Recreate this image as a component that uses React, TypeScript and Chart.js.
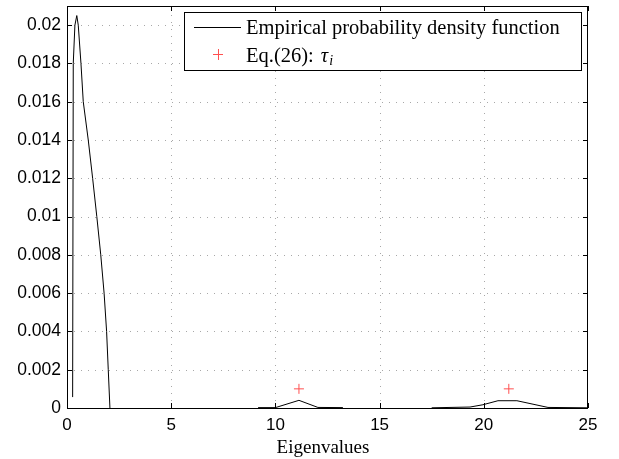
import React, { useEffect, useRef } from "react";
import { Chart, registerables } from "chart.js";

Chart.register(...registerables);

// Empirical PDF curve (null = gap)
const pdfX: (number | null)[] = [
  0.27, 0.3, 0.38, 0.47, 0.54, 0.67, 0.78, 1.02, 1.23, 1.43, 1.62, 1.78, 1.9, 1.98, 2.06,
  null,
  9.17, 10.0, 11.13, 12.04, 13.24,
  null,
  17.5, 19.34, 19.96, 20.68, 21.59, 23.08, 24.95,
];
const pdfY: (number | null)[] = [
  0.00057, 0.018, 0.02, 0.0205, 0.02, 0.018, 0.016, 0.014, 0.012, 0.01, 0.008, 0.006, 0.004, 0.002, 0,
  null,
  0.00002, 0.00002, 0.0004, 0.00003, 0.00002,
  null,
  0.00001, 0.00005, 0.00017, 0.00038, 0.00038, 0.00003, 0.00001,
];

// Eq.(26) tau_i markers
const eqX = [11.13, 21.2];
const eqY = [0.001, 0.001];

const xTicks = [0, 5, 10, 15, 20, 25];
const yTicks = [0, 0.002, 0.004, 0.006, 0.008, 0.01, 0.012, 0.014, 0.016, 0.018, 0.02];
const yTickLabels = ["0", "0.002", "0.004", "0.006", "0.008", "0.01", "0.012", "0.014", "0.016", "0.018", "0.02"];

const legendLabels = ["Empirical probability density function", "Eq.(26): "];
const xTitle = "Eigenvalues";

const SERIF = "'Liberation Serif', 'DejaVu Serif', serif";
const SANS = "'Liberation Sans', Arial, sans-serif";

const gridPlugin = {
  id: "dotgrid",
  beforeDatasetsDraw(chart: any) {
    const { ctx, chartArea } = chart;
    const { left, right, top, bottom } = chartArea;
    const xs = chart.scales.x;
    const ys = chart.scales.y;
    ctx.save();
    ctx.strokeStyle = "#a8a8a8";
    ctx.lineWidth = 1;
    ctx.setLineDash([1, 6]);
    ctx.beginPath();
    xTicks.forEach((v) => {
      const px = Math.round(xs.getPixelForValue(v)) + 0.5;
      if (px < left + 2 || px > right - 2) return;
      ctx.moveTo(px, bottom);
      ctx.lineTo(px, top);
    });
    yTicks.forEach((v) => {
      const py = Math.round(ys.getPixelForValue(v)) + 0.5;
      if (py > bottom - 2 || py < top + 2) return;
      ctx.moveTo(left, py);
      ctx.lineTo(right, py);
    });
    ctx.stroke();
    ctx.restore();
  },
};

const decorPlugin = {
  id: "decor",
  afterDatasetsDraw(chart: any) {
    const { ctx, chartArea } = chart;
    const { left, right, top, bottom } = chartArea;
    const xs = chart.scales.x;
    const ys = chart.scales.y;
    ctx.save();
    // border
    ctx.strokeStyle = "#000";
    ctx.lineWidth = 1;
    ctx.strokeRect(left + 0.5, top + 0.5, right - left - 1, bottom - top);
    // inward tick marks
    const tl = 5;
    ctx.beginPath();
    xTicks.forEach((v) => {
      const px = Math.round(xs.getPixelForValue(v)) + 0.5;
      ctx.moveTo(px, bottom);
      ctx.lineTo(px, bottom - tl);
      ctx.moveTo(px, top);
      ctx.lineTo(px, top + tl);
    });
    yTicks.forEach((v) => {
      const py = Math.round(ys.getPixelForValue(v)) + 0.5;
      ctx.moveTo(left, py);
      ctx.lineTo(left + tl, py);
      ctx.moveTo(right, py);
      ctx.lineTo(right - tl, py);
    });
    ctx.stroke();

    // x title
    ctx.fillStyle = "#000";
    ctx.textAlign = "center";
    ctx.textBaseline = "alphabetic";
    ctx.font = `19px ${SERIF}`;
    ctx.fillText(xTitle, 323, 453);

    // legend box
    const bx = 184.5, by = 12.5, bw = 397, bh = 58;
    ctx.fillStyle = "#fff";
    ctx.fillRect(bx, by, bw, bh);
    ctx.strokeStyle = "#000";
    ctx.strokeRect(bx, by, bw, bh);
    // line sample
    ctx.beginPath();
    ctx.moveTo(194, 27.5);
    ctx.lineTo(241, 27.5);
    ctx.stroke();
    // plus sample
    ctx.strokeStyle = "#ff5050";
    ctx.beginPath();
    ctx.moveTo(213, 54.5);
    ctx.lineTo(223, 54.5);
    ctx.moveTo(218.5, 49);
    ctx.lineTo(218.5, 60);
    ctx.stroke();
    // texts
    ctx.fillStyle = "#000";
    ctx.textAlign = "left";
    ctx.font = `20.5px ${SERIF}`;
    ctx.fillText(legendLabels[0], 246, 34);
    ctx.fillText(legendLabels[1], 246, 61.5);
    const w = ctx.measureText(legendLabels[1]).width;
    ctx.font = `italic 20.5px ${SERIF}`;
    ctx.fillText("τ", 246 + w + 2, 61.5);
    const wt = ctx.measureText("τ").width;
    ctx.font = `italic 14px ${SERIF}`;
    ctx.fillText("i", 246 + w + wt + 3, 65);
    ctx.restore();
  },
};

export default function App() {
  const ref = useRef<HTMLCanvasElement | null>(null);
  useEffect(() => {
    if (!ref.current) return;
    const lineData = pdfX.map((x, i) => (x === null ? { x: NaN, y: null } : { x, y: pdfY[i] }));
    const eqData = eqX.map((x, i) => ({ x, y: eqY[i] }));
    const chart = new Chart(ref.current, {
      type: "line",
      data: {
        datasets: [
          {
            label: legendLabels[0],
            data: lineData as any,
            borderColor: "#000",
            borderWidth: 1,
            pointRadius: 0,
            spanGaps: false,
            tension: 0,
          },
          {
            label: "Eq.(26): τi",
            data: eqData,
            showLine: false,
            pointStyle: "cross",
            pointRadius: 5,
            borderColor: "#ff5050",
            borderWidth: 1,
            backgroundColor: "#ff5050",
          },
        ],
      },
      options: {
        animation: false,
        responsive: false,
        devicePixelRatio: 1,
        layout: { padding: { left: 0, top: 4, right: 31, bottom: 0 } },
        plugins: { legend: { display: false }, tooltip: { enabled: false } },
        scales: {
          x: {
            type: "linear",
            min: 0,
            max: 25,
            afterBuildTicks: (s: any) => {
              s.ticks = xTicks.map((v) => ({ value: v }));
            },
            afterFit: (s: any) => {
              s.height = 51;
              s.paddingLeft = 0;
              s.paddingRight = 0;
            },
            border: { display: false },
            grid: { display: false, drawTicks: false },
            ticks: {
              color: "#000",
              font: { family: SANS, size: 17 },
              padding: 7,
              maxRotation: 0,
              autoSkip: false,
            },
          },
          y: {
            type: "linear",
            min: 0,
            max: 0.021,
            afterBuildTicks: (s: any) => {
              s.ticks = yTicks.map((v) => ({ value: v }));
            },
            afterFit: (s: any) => {
              s.width = 67;
              s.paddingTop = 0;
              s.paddingBottom = 0;
            },
            border: { display: false },
            grid: { display: false, drawTicks: false },
            ticks: {
              color: "#000",
              font: { family: SANS, size: 17.5 },
              padding: 6,
              autoSkip: false,
              callback: (v: any) => {
                const i = yTicks.findIndex((t) => Math.abs(t - Number(v)) < 1e-9);
                return i >= 0 ? yTickLabels[i] : "";
              },
            },
          },
        },
      },
      plugins: [gridPlugin, decorPlugin],
    } as any);
    return () => chart.destroy();
  }, []);
  return (
    <div style={{ position: "fixed", left: 0, top: 0, width: 619, height: 459, background: "#fff" }}>
      <canvas ref={ref} width={619} height={459} style={{ width: 619, height: 459 }} />
    </div>
  );
}
